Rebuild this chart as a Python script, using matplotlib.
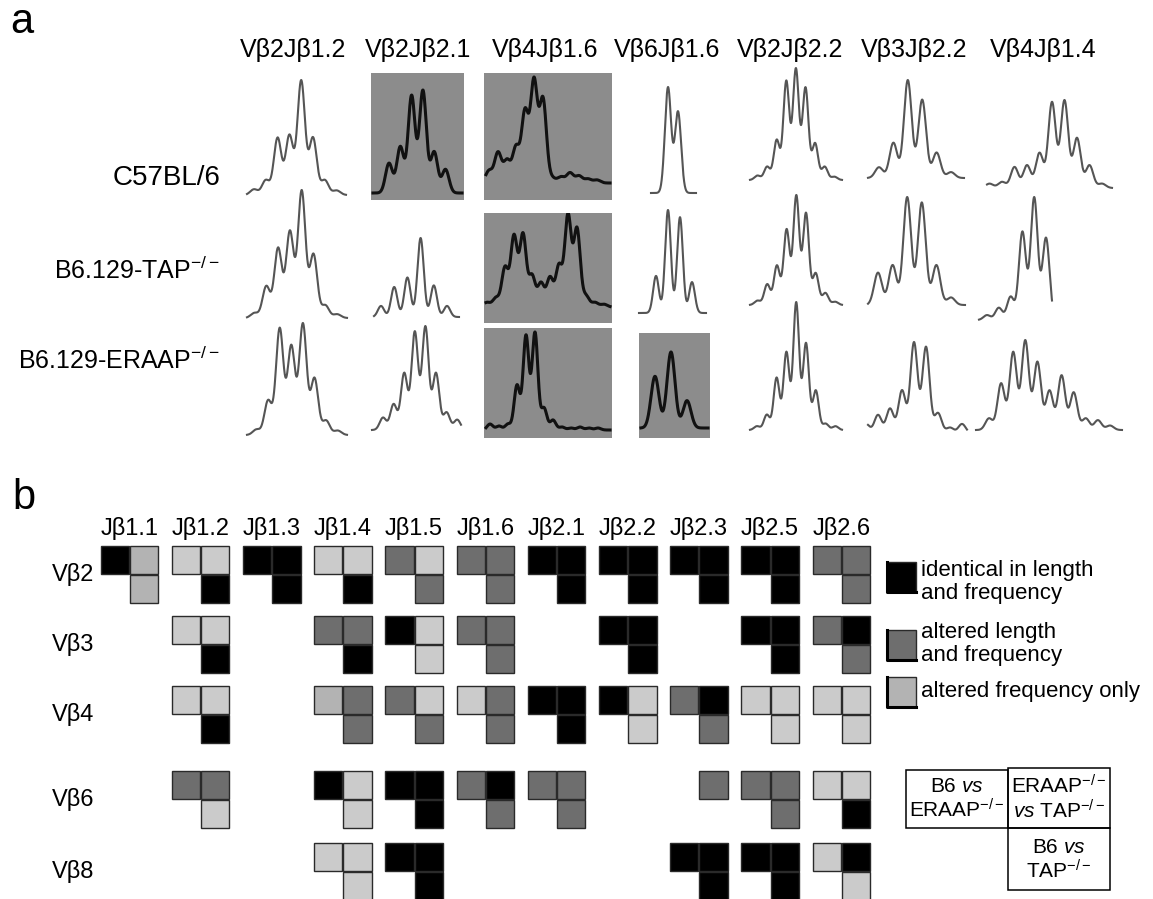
import numpy as np
import matplotlib.pyplot as plt
from matplotlib.patches import Rectangle

plt.rcParams['font.family'] = ['Liberation Sans', 'DejaVu Sans']
plt.rcParams['mathtext.fontset'] = 'custom'
plt.rcParams['mathtext.rm'] = 'Liberation Sans'
plt.rcParams['mathtext.it'] = 'Liberation Sans:italic'

W, H = 1153, 899

# ---- panel a: CDR3 spectratypes (relative peak heights per CDR3 length) ----
strains = ['C57BL/6', 'B6.129-TAP$^{-/-}$', 'B6.129-ERAAP$^{-/-}$']
vj_pairs = ['Vβ2Jβ1.2', 'Vβ2Jβ2.1', 'Vβ4Jβ1.6', 'Vβ6Jβ1.6',
            'Vβ2Jβ2.2', 'Vβ3Jβ2.2', 'Vβ4Jβ1.4']

b6_peaks = [
    [0.05, 0.13, 0.5, 0.52, 1.0, 0.5, 0.13, 0.04],
    [0.29, 0.45, 0.95, 1.0, 0.4, 0.23],
    [0.12, 0.3, 0.22, 0.35, 0.7, 1.0, 0.82, 0.05, 0.06, 0.1, 0.07, 0.04, 0.03],
    [1.0, 0.77],
    [0.04, 0.12, 0.36, 0.89, 1.0, 0.83, 0.33, 0.12, 0.03],
    [0.11, 0.36, 1.0, 0.8, 0.26, 0.06],
    [0.05, 0.07, 0.24, 0.26, 0.4, 0.98, 1.0, 0.57, 0.26, 0.05],
]
tap_peaks = [
    [0.04, 0.25, 0.55, 0.68, 1.0, 0.5, 0.1, 0.03],
    [0.14, 0.38, 0.5, 1.0, 0.4, 0.14],
    [0.05, 0.1, 0.43, 0.77, 0.79, 0.34, 0.26, 0.32, 0.45, 1.0, 0.85, 0.12, 0.05, 0.03],
    [0.36, 1.0, 0.93, 0.3],
    [0.04, 0.19, 0.36, 0.69, 1.0, 0.84, 0.29, 0.11, 0.03],
    [0.3, 0.37, 1.0, 0.95, 0.37, 0.07],
    [0.04, 0.1, 0.19, 0.72, 1.0, 0.67],
]
eraap_peaks = [
    [0.05, 0.31, 0.96, 0.8, 1.0, 0.51, 0.13, 0.04],
    [0.12, 0.25, 0.55, 0.95, 1.0, 0.55, 0.17, 0.1],
    [0.06, 0.04, 0.06, 0.45, 0.95, 0.98, 0.22, 0.1, 0.03, 0.02, 0.03, 0.02, 0.02],
    [0.68, 1.0, 0.36],
    [0.03, 0.12, 0.41, 0.61, 1.0, 0.68, 0.31, 0.05, 0.03],
    [0.1, 0.2, 0.27, 0.47, 1.0, 0.95, 0.22, 0.06, 0.1],
    [0.13, 0.52, 0.87, 1.0, 0.76, 0.44, 0.61, 0.42, 0.13, 0.11, 0.05],
]
all_peaks = [b6_peaks, tap_peaks, eraap_peaks]

# trace geometry in pixels: line x0, x1, first peak x, peak step, baseline y, top y, peak width
trace_geom = [
    [(247, 346, 254, 11.8, 195, 80, 0.32), (373, 462, 389, 11.3, 193, 90, 0.31),
     (486, 610, 489, 9, 183, 77, 0.38), (651, 696, 668, 10, 193, 87, 0.31),
     (750, 842, 757.5, 9.6, 180, 68, 0.31), (868, 964, 879, 14.4, 178, 80, 0.27),
     (987, 1112, 989.5, 12.5, 188, 100, 0.3)],
    [(247, 347, 254.5, 11.8, 318, 190, 0.32), (374, 459, 381, 13.2, 317, 238, 0.24),
     (486, 610, 487, 9, 307, 213, 0.36), (639, 706, 656, 12, 313, 210, 0.24),
     (750, 842, 757.5, 9.7, 305, 195, 0.31), (868, 965, 878, 14.6, 305, 197, 0.27),
     (979, 1052, 987, 11.8, 320, 197, 0.3)],
    [(247, 347, 256.5, 11.6, 435, 323, 0.32), (372, 461, 383, 10.6, 430, 326, 0.31),
     (486, 610, 490, 9, 430, 330, 0.32), (641, 708, 655, 16, 428, 352, 0.25),
     (750, 842, 757, 9.8, 430, 302, 0.3), (868, 967, 866, 12, 433, 342, 0.3),
     (976, 1122, 989, 12.1, 430, 340, 0.3)],
]
# shaded boxes (row, col) -> x0, x1, y0, y1
boxes = {(0, 1): (371, 464, 73, 200), (0, 2): (484, 612, 73, 200),
         (1, 2): (484, 612, 213, 323), (2, 2): (484, 612, 328, 438),
         (2, 3): (639, 710, 333, 438)}

# ---- panel b: pairwise comparison codes per V-J pair ----
# per cell: B6 vs ERAAP, ERAAP vs TAP, B6 vs TAP ; K identical, D altered length+freq,
# L / l altered frequency only, - not done
j_labels = ['Jβ1.1', 'Jβ1.2', 'Jβ1.3', 'Jβ1.4', 'Jβ1.5', 'Jβ1.6',
            'Jβ2.1', 'Jβ2.2', 'Jβ2.3', 'Jβ2.5', 'Jβ2.6']
v_labels = ['Vβ2', 'Vβ3', 'Vβ4', 'Vβ6', 'Vβ8']
vb2 = ['Kll', 'LLK', 'KKK', 'LLK', 'DLD', 'DDD', 'KKK', 'KKK', 'KKK', 'KKK', 'DDD']
vb3 = ['---', 'LLK', '---', 'DDK', 'KLL', 'DDD', '---', 'KKK', '---', 'KKK', 'DKD']
vb4 = ['---', 'LLK', '---', 'lDD', 'DLD', 'LDD', 'KKK', 'KLL', 'DKD', 'LLL', 'LLL']
vb6 = ['---', 'DDL', '---', 'KLL', 'KKK', 'DKD', 'DDD', '---', '-D-', 'DDD', 'LLK']
vb8 = ['---', '---', '---', 'LLL', 'KKK', '---', '---', '---', 'KKK', 'KKK', 'LKL']
codes = [vb2, vb3, vb4, vb6, vb8]

fill = {'K': '#000000', 'D': '#6e6e6e', 'L': '#cbcbcb', 'l': '#b3b3b3'}

fig = plt.figure(figsize=(W / 100, H / 100), dpi=100)
ax = fig.add_axes([0, 0, 1, 1])
ax.set_xlim(0, W)
ax.set_ylim(H, 0)
ax.axis('off')

ax.text(22, 22, 'a', fontsize=30, ha='center', va='center')
ax.text(24, 498, 'b', fontsize=30, ha='center', va='center')

# panel a labels
header_x = [293, 418, 545, 667, 790, 914, 1043]
for x, lab in zip(header_x, vj_pairs):
    ax.text(x, 50, lab, fontsize=18, ha='center', va='center')
for y, lab, fs in zip([178, 270, 360], strains, [20, 18, 18]):
    ax.text(220, y, lab, fontsize=fs, ha='right', va='center')


def spectratype(heights, width, u):
    y = np.zeros_like(u)
    for i, h in enumerate(heights):
        y += h * np.exp(-(u - i) ** 2 / (2 * width ** 2))
    return y * max(heights) / y.max()


for r in range(3):
    for c in range(7):
        x0, x1, first, step, base, top, wid = trace_geom[r][c]
        box = boxes.get((r, c))
        if box:
            bx0, bx1, by0, by1 = box
        else:
            bx0, bx1, by0, by1 = x0 - 2, x1 + 2, top - 6, base + 6
        tax = fig.add_axes([bx0 / W, 1 - by1 / H, (bx1 - bx0) / W, (by1 - by0) / H])
        span = base - top
        tax.set_xlim((bx0 - first) / step, (bx1 - first) / step)
        tax.set_ylim((base - by1) / span, (base - by0) / span)
        u = np.linspace((x0 - first) / step, (x1 - first) / step, 600)
        v = spectratype(all_peaks[r][c], wid, u)
        if box:
            tax.set_facecolor('#8c8c8c')
            tax.plot(u, v, color='#111111', lw=2.2)
            tax.set_xticks([])
            tax.set_yticks([])
            for s in tax.spines.values():
                s.set_visible(False)
        else:
            tax.plot(u, v, color='#555555', lw=1.5)
            tax.axis('off')

# panel b grid
col_x0, col_step, cell = 100, 71.2, 29.3
row_top = [545, 615, 685, 770, 842]

for j, lab in enumerate(j_labels):
    ax.text(col_x0 + j * col_step + cell, 528, lab, fontsize=17, ha='center', va='center')
for i, lab in enumerate(v_labels):
    ax.text(94, row_top[i] + cell, lab, fontsize=17, ha='right', va='center')

slots = [(0, 0), (1, 0), (1, 1)]  # top-left, top-right, bottom-right
for i, row in enumerate(codes):
    for j, triple in enumerate(row):
        for (k, m), ch in zip(slots, triple):
            if ch == '-':
                continue
            x = col_x0 + j * col_step + k * cell
            y = row_top[i] + m * cell
            ax.add_patch(Rectangle((x + 0.5, y + 0.5), cell - 1, cell - 1,
                                   facecolor=fill[ch], edgecolor='#2a2a2a', lw=1.0))

# legend
legend_items = [('K', 562, 'identical in length\nand frequency', 582),
                ('D', 630, 'altered length\nand frequency', 644),
                ('l', 677, 'altered frequency only', 692)]
for ch, ytop, text, ytext in legend_items:
    ax.add_patch(Rectangle((887, ytop), 29, 30, facecolor=fill[ch],
                           edgecolor='#2a2a2a', lw=1.0))
    ax.plot([887, 887, 916], [ytop, ytop + 30, ytop + 30], color='black', lw=2.2)
    ax.text(921, ytext, text, fontsize=16, ha='left', va='center', linespacing=1.15)

# key to the three comparisons in each cell
ax.add_patch(Rectangle((906, 770), 102, 58, facecolor='none', edgecolor='black', lw=1.1))
ax.add_patch(Rectangle((1008, 768), 102, 60, facecolor='none', edgecolor='black', lw=1.1))
ax.add_patch(Rectangle((1008, 828), 102, 62, facecolor='none', edgecolor='black', lw=1.1))
ax.text(957, 799, 'B6 $\\mathit{vs}$\nERAAP$^{-/-}$', fontsize=15, ha='center',
        va='center', linespacing=1.1)
ax.text(1059, 798, 'ERAAP$^{-/-}$\n$\\mathit{vs}$ TAP$^{-/-}$', fontsize=15, ha='center',
        va='center', linespacing=1.1)
ax.text(1059, 860, 'B6 $\\mathit{vs}$\nTAP$^{-/-}$', fontsize=15, ha='center',
        va='center', linespacing=1.1)

fig.savefig('out.png', dpi=100)
